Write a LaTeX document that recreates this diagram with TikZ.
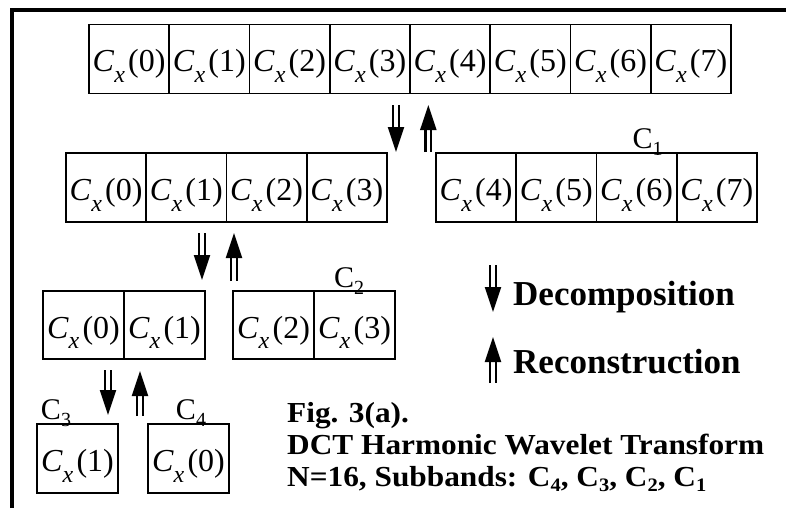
\documentclass[tikz,border=0pt]{standalone}
\usepackage{fontspec}
\setmainfont{Liberation Serif}
\usetikzlibrary{arrows.meta}
\newcommand\cxtext[1]{\textit{C}\raisebox{-0.34em}{\fontsize{24pt}{24pt}\selectfont\textit{x}}\hspace{0.1em}(#1)}
\newcommand\sublbl[1]{C\raisebox{-0.24em}{\fontsize{20pt}{20pt}\selectfont #1}}
\newcommand\bsub[1]{C\raisebox{-0.2em}{\fontsize{19pt}{19pt}\selectfont #1}}
\begin{document}
\begin{tikzpicture}[x=1pt,y=-1pt,
 cell/.style={draw, line width=1.6pt, minimum width=80.25pt, minimum height=69pt, inner sep=0pt, text height=30pt, text depth=4pt, font=\fontsize{32pt}{32pt}\selectfont},
 cellb/.style={cell, minimum width=81pt, minimum height=68pt},
 sublabel/.style={anchor=base, inner sep=0pt, font=\fontsize{30pt}{30pt}\selectfont},
 dblarrow/.style={line width=2.2pt, double=white, double distance=3.6pt, -{Triangle[length=25pt,width=16pt]}},
 figtext/.style={anchor=base west, inner sep=0pt, font=\fontsize{29pt}{32pt}\selectfont\bfseries},
 legtext/.style={anchor=base west, inner sep=0pt, font=\fontsize{35pt}{38pt}\selectfont\bfseries},
]
\useasboundingbox (0,0) rectangle (786,508);
% frame
\draw[line width=3.4pt] (12,508) -- (12,10) -- (786,10);
% top row
\foreach \i in {0,...,7}
  \node[cell] (t\i) at ({129.1+80.25*\i},59) {\cxtext{\i}};
% second row
\foreach \i in {0,...,3}
  \node[cell] (l\i) at ({106.1+80.25*\i},187.5) {\cxtext{\i}};
\foreach \i/\j in {0/4,1/5,2/6,3/7}
  \node[cell] (r\i) at ({476.1+80.25*\i},187.5) {\cxtext{\j}};
\node[sublabel] (c1) at (647.5,148) {\sublbl{1}};
% third row
\node[cellb] (ll0) at (83.5,325) {\cxtext{0}};
\node[cellb] (ll1) at (164.5,325) {\cxtext{1}};
\node[cellb] (lr0) at (273.5,325) {\cxtext{2}};
\node[cellb] (lr1) at (354.5,325) {\cxtext{3}};
\node[sublabel] (c2) at (349,287) {\sublbl{2}};
% fourth row
\node[cell, minimum width=81pt] (b3) at (77.5,458.5) {\cxtext{1}};
\node[cell, minimum width=81pt] (b4) at (188.5,458.5) {\cxtext{0}};
\node[sublabel] (c3) at (56,419) {\sublbl{3}};
\node[sublabel] (c4) at (191,419) {\sublbl{4}};
% arrows
\coordinate (d1s) at (396,105); \coordinate (d1e) at (396,152);
\coordinate (u1s) at (428.3,152); \coordinate (u1e) at (428.3,105);
\coordinate (d2s) at (202,233); \coordinate (d2e) at (202,280);
\coordinate (u2s) at (234,281); \coordinate (u2e) at (234,233);
\coordinate (d3s) at (108,370); \coordinate (d3e) at (108,415);
\coordinate (u3s) at (140,416); \coordinate (u3e) at (140,371);
\coordinate (dls) at (493,265); \coordinate (dle) at (493,312);
\coordinate (uls) at (493,383); \coordinate (ule) at (493,337);
\draw[dblarrow] (d1s) -- (d1e);
\draw[dblarrow] (u1s) -- (u1e);
\draw[dblarrow] (d2s) -- (d2e);
\draw[dblarrow] (u2s) -- (u2e);
\draw[dblarrow] (d3s) -- (d3e);
\draw[dblarrow] (u3s) -- (u3e);
\draw[dblarrow] (dls) -- (dle);
\draw[dblarrow] (uls) -- (ule);
% legend
\node[legtext] (dec) at (513,305) {Decomposition};
\node[legtext] (rec) at (513,373) {Reconstruction};
% caption
\node[figtext] (f1) at (287,422) {\scalebox{1.08}[1]{Fig. 3(a).}};
\node[figtext] (f2) at (287,454) {\scalebox{1.08}[1]{DCT Harmonic Wavelet Transform}};
\node[figtext] (f3) at (287,486) {\scalebox{1.08}[1]{N=16, Subbands: \bsub{4}, \bsub{3}, \bsub{2}, \bsub{1}}};
\end{tikzpicture}
\end{document}
